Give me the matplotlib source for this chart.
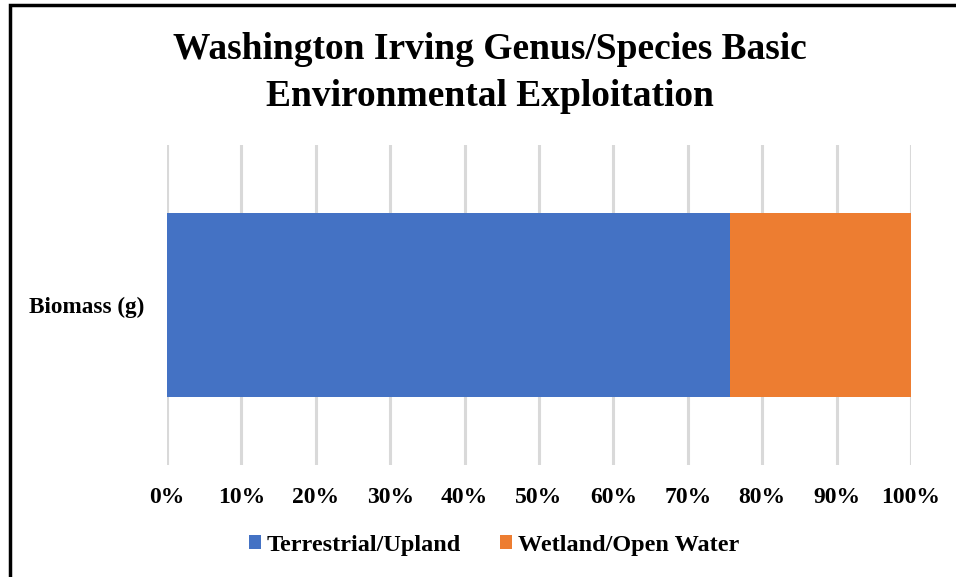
import matplotlib
matplotlib.use("Agg")
import matplotlib.pyplot as plt
from matplotlib.patches import Rectangle
from matplotlib.ticker import FuncFormatter

categories = ["Biomass (g)"]
series_names = ["Terrestrial/Upland", "Wetland/Open Water"]
terrestrial = [75.7]
wetland = [24.3]
colors = ["#4472C4", "#ED7D31"]
xticks = [0, 10, 20, 30, 40, 50, 60, 70, 80, 90, 100]

plt.rcParams['font.family'] = ['Liberation Serif', 'DejaVu Serif']
plt.rcParams['font.weight'] = 'bold'

W, H = 956, 577
fig = plt.figure(figsize=(W/100, H/100), dpi=100)
ax = fig.add_axes([167/W, 1-465/H, (911-167)/W, (465-145)/H])

bar_h = 0.572
ax.barh(categories, terrestrial, height=bar_h, color=colors[0], label=series_names[0], zorder=3)
ax.barh(categories, wetland, left=terrestrial, height=bar_h, color=colors[1], label=series_names[1], zorder=3)

ax.set_xlim(0, 100)
ax.set_ylim(-0.5, 0.5)
ax.set_xticks(xticks)
ax.xaxis.set_major_formatter(FuncFormatter(lambda v, p: f"{int(v)}%"))
ax.grid(axis='x', color='#D9D9D9', linewidth=2.2, zorder=0)
ax.grid(axis='y', visible=False)
for s in ax.spines.values():
    s.set_visible(False)
ax.tick_params(axis='both', length=0)
ax.tick_params(axis='x', labelsize=17, pad=15.5)
ax.tick_params(axis='y', labelsize=16.7, pad=16.5)
for lab in ax.get_xticklabels() + ax.get_yticklabels():
    lab.set_fontweight('bold')

fig.text(490/W, 1-73/H, "Washington Irving Genus/Species Basic\nEnvironmental Exploitation",
         ha='center', va='center', fontsize=27, fontweight='bold', linespacing=1.45)

leg = fig.legend(loc='center', bbox_to_anchor=(494/W, 1-545/H), ncol=2, frameon=False,
                 fontsize=17.5, handlelength=0.5, handleheight=0.5, handletextpad=0.25,
                 columnspacing=1.6)
for t in leg.get_texts():
    t.set_fontweight('bold')

fig.patches.append(Rectangle((9.5/W, -0.1), 1.2, 1 - 5/H + 0.1, transform=fig.transFigure,
                             fill=False, edgecolor='black', linewidth=2.5))

fig.savefig("out.png", dpi=100)
